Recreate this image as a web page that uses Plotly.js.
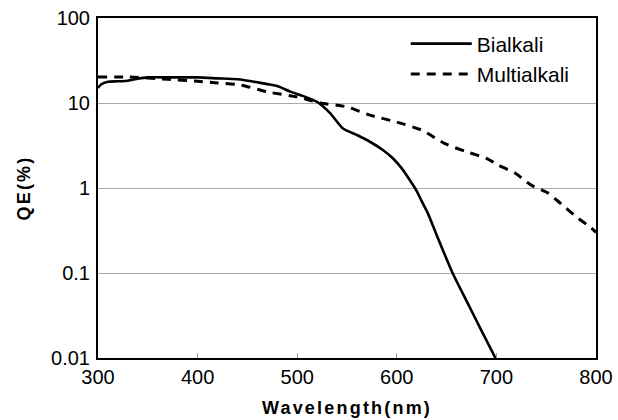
<!DOCTYPE html>
<html>
<head>
<meta charset="utf-8">
<script src="https://cdn.plot.ly/plotly-3.0.1.min.js"></script>
<style>
html,body{margin:0;padding:0;background:#fff;}
#chart{width:618px;height:420px;}
.xtitle,.ytitle{letter-spacing:2.2px;}
</style>
</head>
<body>
<div id="chart"></div>
<script>
// Bialkali photocathode QE (%)
var bialkaliWavelength = [300,303,310,320,330,340,350,375,400,420,440,460,480,493,505,520,533,546,560,573,586,596,605,613,620,625,631,640,656,670,685,700];
var bialkaliQE         = [15,16.5,17.8,18,18.3,19.3,20,20,20,19.5,19,17.5,15.8,13.6,12.2,10.3,7.6,5.0,4.2,3.5,2.8,2.24,1.7,1.24,0.92,0.7,0.51,0.28,0.1,0.047,0.021,0.0095];

// Multialkali photocathode QE (%)
var multialkaliWavelength = [300,330,370,400,420,443,470,500,523,550,573,598,625,649,670,690,702,719,735,752,765,780,795,800];
var multialkaliQE         = [20.2,20.2,19,18,17.2,16.3,13.5,11.8,10,9.0,7.2,6.05,4.8,3.3,2.67,2.23,1.86,1.49,1.08,0.87,0.65,0.46,0.34,0.3];

var yTickVals = [0.01,0.1,1,10,100];
var yTickText = ['0.01','0.1','1','10','100'];
var xTickVals = [300,400,500,600,700,800];

var traces = [
  {x: bialkaliWavelength, y: bialkaliQE, name: 'Bialkali', type: 'scatter', mode: 'lines',
   line: {color: '#000', width: 2.6, shape: 'spline', smoothing: 0.6}},
  {x: multialkaliWavelength, y: multialkaliQE, name: 'Multialkali', type: 'scatter', mode: 'lines',
   line: {color: '#000', width: 3, dash: '9px,7px', shape: 'spline', smoothing: 0.6}}
];

var layout = {
  width: 618, height: 420,
  margin: {l: 98, r: 22, t: 18, b: 62},
  paper_bgcolor: '#fff', plot_bgcolor: '#fff',
  font: {family: '"Liberation Sans", Arial, sans-serif', color: '#000', size: 20},
  showlegend: true,
  legend: {x: 0.618, y: 0.984, xanchor: 'left', yanchor: 'top', bgcolor: 'rgba(0,0,0,0)',
           borderwidth: 0, font: {size: 21}, itemwidth: 61, tracegroupgap: 0},
  xaxis: {
    range: [300, 800], tickvals: xTickVals, ticks: 'inside', ticklen: 5, tickcolor: '#999', tickwidth: 1,
    showgrid: false, zeroline: false, showline: true, linecolor: '#000', linewidth: 2, mirror: true,
    tickfont: {size: 20}, ticklabelstandoff: 0,
    title: {text: 'Wavelength(nm)', font: {size: 18, weight: 'bold'}, standoff: 14}
  },
  yaxis: {
    type: 'log', range: [-2, 2], tickvals: yTickVals, ticktext: yTickText, ticks: '',
    showgrid: true, gridcolor: '#aaaaaa', gridwidth: 1, zeroline: false,
    showline: true, linecolor: '#000', linewidth: 2, mirror: true,
    tickfont: {size: 20}, ticklabelstandoff: 2,
    title: {text: 'QE(%)', font: {size: 18, weight: 'bold'}, standoff: 16}
  }
};

Plotly.newPlot('chart', traces, layout, {displayModeBar: false, staticPlot: true});
</script>
</body>
</html>
